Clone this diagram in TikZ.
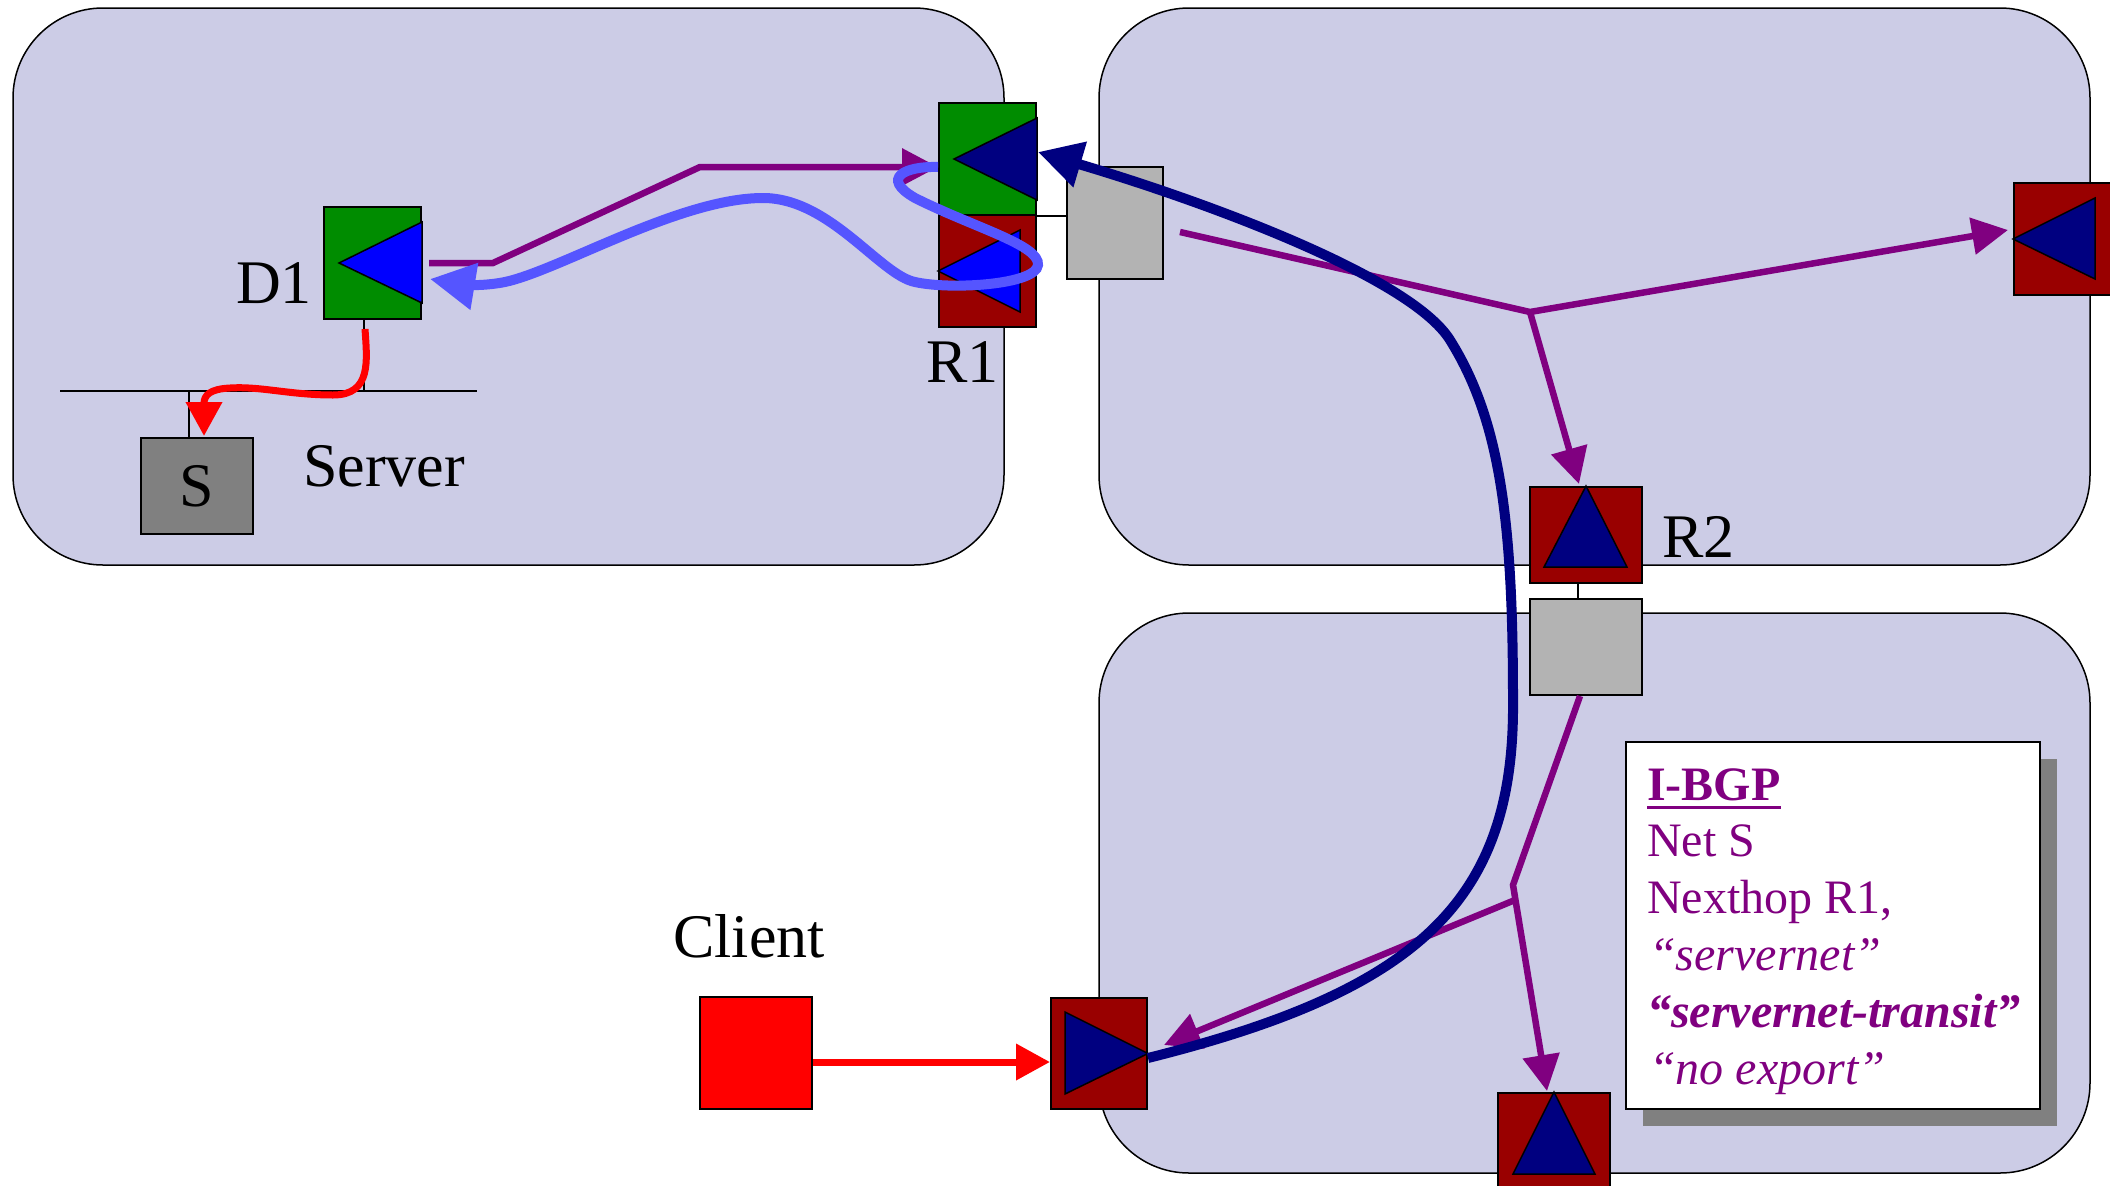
\documentclass[tikz,border=0pt]{standalone}
\usepackage{fontspec}
\setmainfont{Liberation Serif}
\usetikzlibrary{arrows.meta,calc}

\definecolor{panelfill}{RGB}{204,204,230}
\definecolor{rgreen}{RGB}{0,140,0}
\definecolor{rred}{RGB}{153,0,0}
\definecolor{navyc}{RGB}{0,0,128}
\definecolor{bluec}{RGB}{0,0,255}
\definecolor{curlblue}{RGB}{85,85,255}
\definecolor{purplec}{RGB}{128,0,128}
\definecolor{portgray}{RGB}{179,179,179}
\definecolor{hostgray}{RGB}{128,128,128}
\definecolor{redc}{RGB}{255,0,0}

\begin{document}
\begin{tikzpicture}[x=1pt,y=-1pt,
  panel/.style={draw=black, line width=1.5pt, fill=panelfill, rounded corners=90pt},
  unitbox/.style={draw=black, line width=2pt, inner sep=0pt, rectangle},
  vbox/.style={unitbox, minimum width=97pt, minimum height=112pt},
  hbox/.style={unitbox, minimum width=112pt, minimum height=96pt},
  tri/.style={draw=black, line width=1.5pt, line join=miter},
  wire/.style={draw=black, line width=1.5pt},
  adv/.style={draw=purplec, line width=6.5pt, -{Triangle[length=36pt,width=36pt]}},
  redpath/.style={draw=redc, line width=7pt, -{Triangle[length=34pt,width=35pt]}},
  curlpath/.style={draw=curlblue, line width=10pt, -{Triangle[length=45pt,width=45pt]}},
  navypath/.style={draw=navyc, line width=10pt, -{Triangle[length=44pt,width=45pt]}},
  lbl/.style={font=\fontsize{62}{70}\selectfont, inner sep=0pt, anchor=base west},
  note/.style={font=\fontsize{48}{57}\selectfont, text=purplec, inner sep=0pt, anchor=base west}
]
\useasboundingbox (0,0) rectangle (2110,1186);
\clip (0,0) rectangle (2110,1186);
\fill[white] (0,0) rectangle (2110,1186);

% three network clouds
\draw[panel] (13,8) rectangle (1004,565);
\draw[panel] (1099,8) rectangle (2090,565);
\draw[panel] (1099,613) rectangle (2090,1173);

% server LAN
\coordinate (lanL) at (60,391);
\coordinate (lanR) at (477,391);
\draw[wire] (lanL) -- (lanR);

% routers, ports and hosts
\node[vbox, fill=rgreen] (d1) at (372.5,263) {};
\node[vbox, fill=rgreen] (r1a) at (987.5,159) {};
\node[vbox, fill=rred] (r1b) at (987.5,271) {};
\node[vbox, minimum width=96pt, fill=portgray] (g1) at (1115,223) {};
\node[vbox, fill=rred] (rr) at (2062.5,239) {};
\node[hbox, fill=rred] (r2) at (1586,535) {};
\node[hbox, fill=portgray] (g2) at (1586,647) {};
\node[hbox, fill=rred] (rb) at (1554,1141) {};
\node[vbox, minimum width=96pt, minimum height=111pt, fill=rred] (rc) at (1099,1053.5) {};
\node[unitbox, minimum width=112pt, minimum height=112pt, fill=redc] (cl) at (756,1053) {};
\node[hbox, fill=hostgray, font=\fontsize{62}{70}\selectfont] (srv) at (197,486) {S};

% short attachment wires
\draw[wire] ($(d1.south)+(-8.5,0)$) -- ($(d1.south |- lanL)+(-8.5,0)$);
\draw[wire] ($(srv.north)+(-8,0)$) -- ($(srv.north |- lanL)+(-8,0)$);
\draw[wire] (r1a.south east) -- (g1.west |- r1a.south east);
\draw[wire] ($(r2.south)+(-8,0)$) -- ($(g2.north)+(-8,0)$);

% direction triangles
\draw[tri, fill=bluec] ($(d1.west)+(16,0)$) -- ($(d1.north east)+(0,16)$) -- ($(d1.south east)+(0,-17)$) -- cycle;
\draw[tri, fill=navyc] ($(r1a.west)+(16,0)$) -- ($(r1a.north east)+(0,16)$) -- ($(r1a.south east)+(0,-16)$) -- cycle;
\draw[tri, fill=bluec] (r1b.west) -- ($(r1b.north east)+(-17,16)$) -- ($(r1b.south east)+(-17,-16)$) -- cycle;
\draw[tri, fill=navyc] (rr.west) -- ($(rr.north east)+(-17,16)$) -- ($(rr.south east)+(-17,-17)$) -- cycle;
\draw[tri, fill=navyc] (r2.north) -- ($(r2.south east)+(-16,-17)$) -- ($(r2.south west)+(15,-17)$) -- cycle;
\draw[tri, fill=navyc] (rb.north) -- ($(rb.south east)+(-16,-16)$) -- ($(rb.south west)+(16,-16)$) -- cycle;
\draw[tri, fill=navyc] (rc.east) -- ($(rc.north west)+(15,15)$) -- ($(rc.south west)+(15,-16)$) -- cycle;

% route announcement box
\node[fill=hostgray, minimum width=414pt, minimum height=367pt, inner sep=0pt] (ibgpshade) at (1850,942) {};
\node[unitbox, fill=white, minimum width=414pt, minimum height=367pt] (ibgp) at (1833,925.5) {};
\node[note, font=\fontsize{48}{57}\selectfont\bfseries] (t1) at (1647,800) {I-BGP};
\draw[purplec, line width=3pt] ($(t1.base west)+(0,7)$) -- ($(t1.base east)+(0,7)$);
\node[note] (t2) at (1647,856) {Net S};
\node[note] (t3) at (1647,913) {Nexthop R1,};
\node[note, font=\fontsize{48}{57}\selectfont\itshape] (t4) at (1649,970) {“servernet”};
\node[note, font=\fontsize{48}{57}\selectfont\bfseries\itshape] (t5) at (1647,1027) {“servernet-transit”};
\node[note, font=\fontsize{48}{57}\selectfont\itshape] (t6) at (1649,1084) {“no export”};

% I-BGP propagation
\coordinate (pA) at (493,263);
\coordinate (pB) at (700,167);
\coordinate (j1) at (1530,312);
\coordinate (j2) at (1513,885);
\coordinate (j2b) at (1515,900);
\draw[adv] ($(d1.east)+(7,0)$) -- (pA) -- (pB) -- (r1a.west |- 0,167);
\draw[adv] ($(g1.east)+(16,9)$) -- (j1) -- ($(rr.west)+(-5,-9)$);
\draw[adv] (j1) -- ($(r2.north)+(-7,-2)$);
\draw[adv] ($(g2.south)+(-6,0)$) -- (j2) -- ($(rb.north)+(-7,-1)$);
\draw[adv] (j2b) -- ($(rc.east)+(16,-8.5)$);

% data traffic
\draw[redpath] ($(d1.south)+(-7.5,9)$) .. controls (367,360) and (372,395) .. (333,395)
  .. controls (290,395) and (260,386) .. (230,388)
  .. controls (210,389) and (204,395) .. ($(srv.north)+(7,-1)$);
\draw[redpath] ($(cl.east)+(0,9)$) -- ($(rc.west)+(0,8.5)$);

\draw[curlpath] ($(r1a.west)+(0,8)$) .. controls (905,166) and (880,178) .. (915,198)
  .. controls (975,228) and (1040,245) .. (1038,265)
  .. controls (1036,285) and (950,290) .. (915,282)
  .. controls (880,275) and (830,198) .. (763,198)
  .. controls (680,198) and (560,270) .. (505,282)
  .. controls (480,287) and (460,284) .. ($(d1.east)+(8,16)$);

\draw[navypath] ($(rc.east)+(0,4.5)$) .. controls (1420,990) and (1515,900) .. (1513,700)
  .. controls (1513,520) and (1500,420) .. (1450,340)
  .. controls (1410,276) and (1200,200) .. ($(r1a.east)+(1,-7)$);

% labels
\node[lbl, anchor=base east] (d1lbl) at (312,303) {D1};
\node[lbl] (r1lbl) at (926,382) {R1};
\node[lbl] (srvlbl) at (303,486) {Server};
\node[lbl] (r2lbl) at (1662,557) {R2};
\node[lbl] (cllbl) at (673,957) {Client};
\end{tikzpicture}
\end{document}
